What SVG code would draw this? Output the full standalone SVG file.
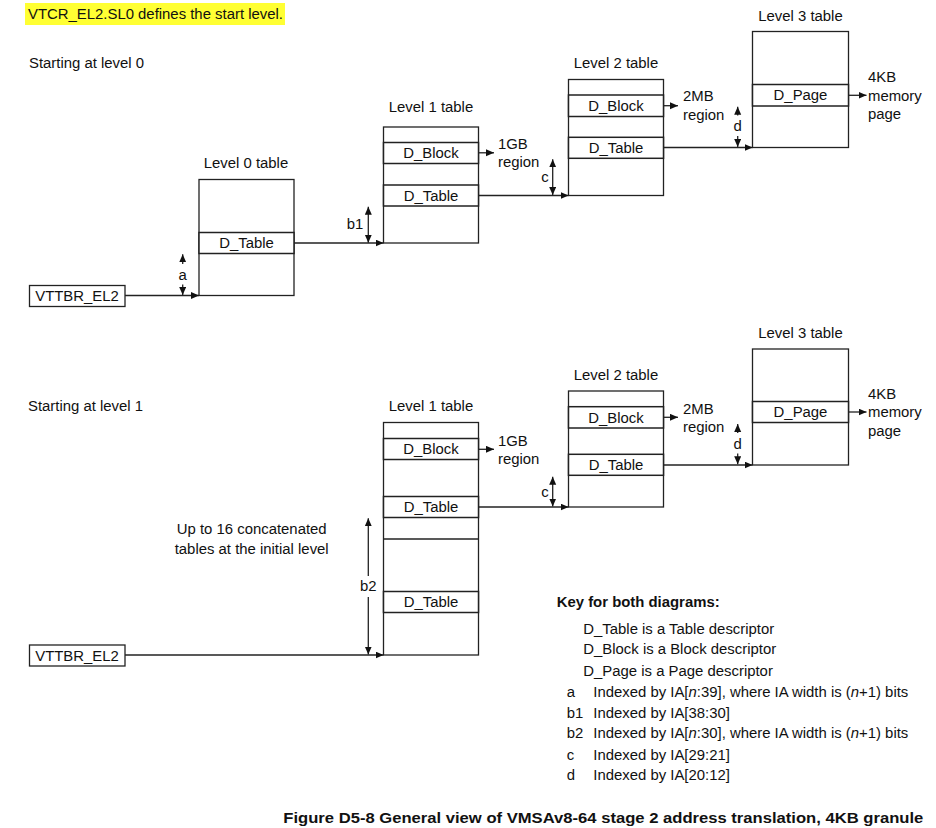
<svg xmlns="http://www.w3.org/2000/svg" width="936" height="828" viewBox="0 0 936 828">
<defs>
<marker id="ah" markerUnits="userSpaceOnUse" markerWidth="9" markerHeight="8" refX="8" refY="3.5" orient="auto">
<path d="M0,0 L8,3.5 L0,7 z" fill="#111"/>
</marker>
<style>
text{font-family:"Liberation Sans",Arial,sans-serif;font-size:14.9px;fill:#111}
.c{text-anchor:middle}
.b{font-weight:bold}
.tb{fill:#fff;stroke:#222;stroke-width:1.3}
.row{fill:#fff;stroke:#222;stroke-width:1.5}
.ln{stroke:#222;stroke-width:1.3;fill:none}
.con{stroke:#222;stroke-width:1.3;fill:none;marker-end:url(#ah)}
</style>
</defs>
<rect x="0" y="0" width="936" height="828" fill="#fff"/>
<rect x="25" y="3" width="260" height="22" fill="#ffff33"/>
<text x="28" y="19">VTCR_EL2.SL0 defines the start level.</text>
<text x="29" y="68">Starting at level 0</text>
<text x="28" y="411">Starting at level 1</text>

<!-- Top diagram -->
<g id="vttbr-top">
<rect x="29.5" y="285.5" width="95.5" height="21" class="tb"/>
<text x="77" y="301" class="c">VTTBR_EL2</text>
</g>
<g id="l0-top">
<text x="246" y="168" class="c">Level 0 table</text>
<rect x="199" y="179.5" width="95" height="116" class="tb"/>
<rect x="199" y="232.5" width="95" height="21" class="row"/>
<text x="246.5" y="248" class="c">D_Table</text>
</g>
<g id="l1-top">
<text x="431" y="112" class="c">Level 1 table</text>
<rect x="383.5" y="127" width="95" height="116" class="tb"/>
<rect x="383.5" y="142.5" width="95" height="21" class="row"/>
<text x="431" y="158" class="c">D_Block</text>
<rect x="383.5" y="185" width="95" height="21" class="row"/>
<text x="431" y="200.5" class="c">D_Table</text>
</g>
<g id="l2-top">
<text x="616" y="68" class="c">Level 2 table</text>
<rect x="568.5" y="79.5" width="95" height="116" class="tb"/>
<rect x="568.5" y="95" width="95" height="21.5" class="row"/>
<text x="616" y="110.5" class="c">D_Block</text>
<rect x="568.5" y="137.3" width="95" height="21" class="row"/>
<text x="616" y="152.8" class="c">D_Table</text>
</g>
<g id="l3-top">
<text x="800.5" y="21" class="c">Level 3 table</text>
<rect x="752.5" y="31.5" width="96" height="116" class="tb"/>
<rect x="752.5" y="84.5" width="96" height="21.5" class="row"/>
<text x="800.5" y="100" class="c">D_Page</text>
</g>
<g id="lbl-top">
<text x="498" y="148.5">1GB</text>
<text x="498" y="167">region</text>
<text x="683" y="101">2MB</text>
<text x="683" y="119.5">region</text>
<text x="868" y="82">4KB</text>
<text x="868" y="100.5">memory</text>
<text x="868" y="119">page</text>
<text x="182.7" y="279.5" class="c">a</text>
<text x="355" y="229" class="c">b1</text>
<text x="545" y="182" class="c">c</text>
<text x="737.7" y="131" class="c">d</text>
</g>

<!-- Bottom diagram -->
<g id="vttbr-bot">
<rect x="29.5" y="645" width="95.5" height="21" class="tb"/>
<text x="77" y="660.5" class="c">VTTBR_EL2</text>
</g>
<g id="l1-bot">
<text x="431" y="411" class="c">Level 1 table</text>
<rect x="383.5" y="422.5" width="95" height="232.5" class="tb"/>
<rect x="383.5" y="438.5" width="95" height="21" class="row"/>
<text x="431" y="454" class="c">D_Block</text>
<rect x="383.5" y="496.5" width="95" height="21" class="row"/>
<text x="431" y="512" class="c">D_Table</text>
<line x1="383.5" y1="539" x2="478.5" y2="539" class="ln" stroke-width="1.5"/>
<rect x="383.5" y="591.5" width="95" height="21" class="row"/>
<text x="431" y="607" class="c">D_Table</text>
</g>
<g id="l2-bot">
<text x="616" y="380" class="c">Level 2 table</text>
<rect x="568.5" y="391" width="95" height="116" class="tb"/>
<rect x="568.5" y="406.7" width="95" height="21.3" class="row"/>
<text x="616" y="422.5" class="c">D_Block</text>
<rect x="568.5" y="454.3" width="95" height="21" class="row"/>
<text x="616" y="470" class="c">D_Table</text>
</g>
<g id="l3-bot">
<text x="800.5" y="338" class="c">Level 3 table</text>
<rect x="752.5" y="349" width="96" height="116" class="tb"/>
<rect x="752.5" y="401.5" width="96" height="21" class="row"/>
<text x="800.5" y="417" class="c">D_Page</text>
</g>
<g id="lbl-bot">
<text x="498" y="445.5">1GB</text>
<text x="498" y="464">region</text>
<text x="683" y="413.5">2MB</text>
<text x="683" y="432">region</text>
<text x="868" y="398.5">4KB</text>
<text x="868" y="417">memory</text>
<text x="868" y="435.5">page</text>
<text x="251.7" y="533.5" class="c">Up to 16 concatenated</text>
<text x="251.7" y="553.5" class="c">tables at the initial level</text>
<text x="368.3" y="591" class="c">b2</text>
<text x="545" y="496.5" class="c">c</text>
<text x="737.7" y="449" class="c">d</text>
</g>

<!-- Connectors -->
<g id="connectors">
<line x1="125" y1="295.5" x2="199" y2="295.5" class="con"/>
<line x1="294" y1="243" x2="383.5" y2="243" class="con"/>
<line x1="478.5" y1="195.5" x2="568.5" y2="195.5" class="con"/>
<line x1="663.5" y1="147.5" x2="752.5" y2="147.5" class="con"/>
<line x1="478.5" y1="152.8" x2="494" y2="152.8" class="con"/>
<line x1="663.5" y1="105.7" x2="678" y2="105.7" class="con"/>
<line x1="848.5" y1="95.3" x2="866.5" y2="95.3" class="con"/>
<line x1="182.7" y1="264" x2="182.7" y2="254.3" class="con"/>
<line x1="182.7" y1="284.5" x2="182.7" y2="295" class="con"/>
<line x1="368.3" y1="225" x2="368.3" y2="206.7" class="con"/>
<line x1="368.3" y1="225" x2="368.3" y2="242.7" class="con"/>
<line x1="552.7" y1="177" x2="552.7" y2="159.3" class="con"/>
<line x1="552.7" y1="177" x2="552.7" y2="195" class="con"/>
<line x1="737.7" y1="115.5" x2="737.7" y2="106.7" class="con"/>
<line x1="737.7" y1="136" x2="737.7" y2="147" class="con"/>

<line x1="125" y1="655" x2="383.5" y2="655" class="con"/>
<line x1="478.5" y1="507" x2="568.5" y2="507" class="con"/>
<line x1="663.5" y1="465" x2="752.5" y2="465" class="con"/>
<line x1="478.5" y1="449.3" x2="494" y2="449.3" class="con"/>
<line x1="663.5" y1="417.3" x2="678" y2="417.3" class="con"/>
<line x1="848.5" y1="412" x2="866.5" y2="412" class="con"/>
<line x1="368.3" y1="576" x2="368.3" y2="518.3" class="con"/>
<line x1="368.3" y1="597" x2="368.3" y2="654.5" class="con"/>
<line x1="552.7" y1="492" x2="552.7" y2="476.7" class="con"/>
<line x1="552.7" y1="492" x2="552.7" y2="506.5" class="con"/>
<line x1="737.7" y1="433" x2="737.7" y2="424" class="con"/>
<line x1="737.7" y1="453.5" x2="737.7" y2="464.3" class="con"/>
</g>

<!-- Key -->
<g id="key">
<text x="556.7" y="607" class="b">Key for both diagrams:</text>
<text x="583.3" y="633.5">D_Table is a Table descriptor</text>
<text x="583.3" y="653.5">D_Block is a Block descriptor</text>
<text x="583.3" y="675.5">D_Page is a Page descriptor</text>
<text x="566.7" y="697">a</text>
<text x="593.3" y="697">Indexed by IA[<tspan font-style="italic">n</tspan>:39], where IA width is (<tspan font-style="italic">n</tspan>+1) bits</text>
<text x="566.7" y="717.5">b1</text>
<text x="593.3" y="717.5">Indexed by IA[38:30]</text>
<text x="566.7" y="738">b2</text>
<text x="593.3" y="738">Indexed by IA[<tspan font-style="italic">n</tspan>:30], where IA width is (<tspan font-style="italic">n</tspan>+1) bits</text>
<text x="566.7" y="759.5">c</text>
<text x="593.3" y="759.5">Indexed by IA[29:21]</text>
<text x="566.7" y="780">d</text>
<text x="593.3" y="780">Indexed by IA[20:12]</text>
</g>
<text x="283.3" y="823" class="b" textLength="640" lengthAdjust="spacingAndGlyphs">Figure D5-8 General view of VMSAv8-64 stage 2 address translation, 4KB granule</text>
</svg>
